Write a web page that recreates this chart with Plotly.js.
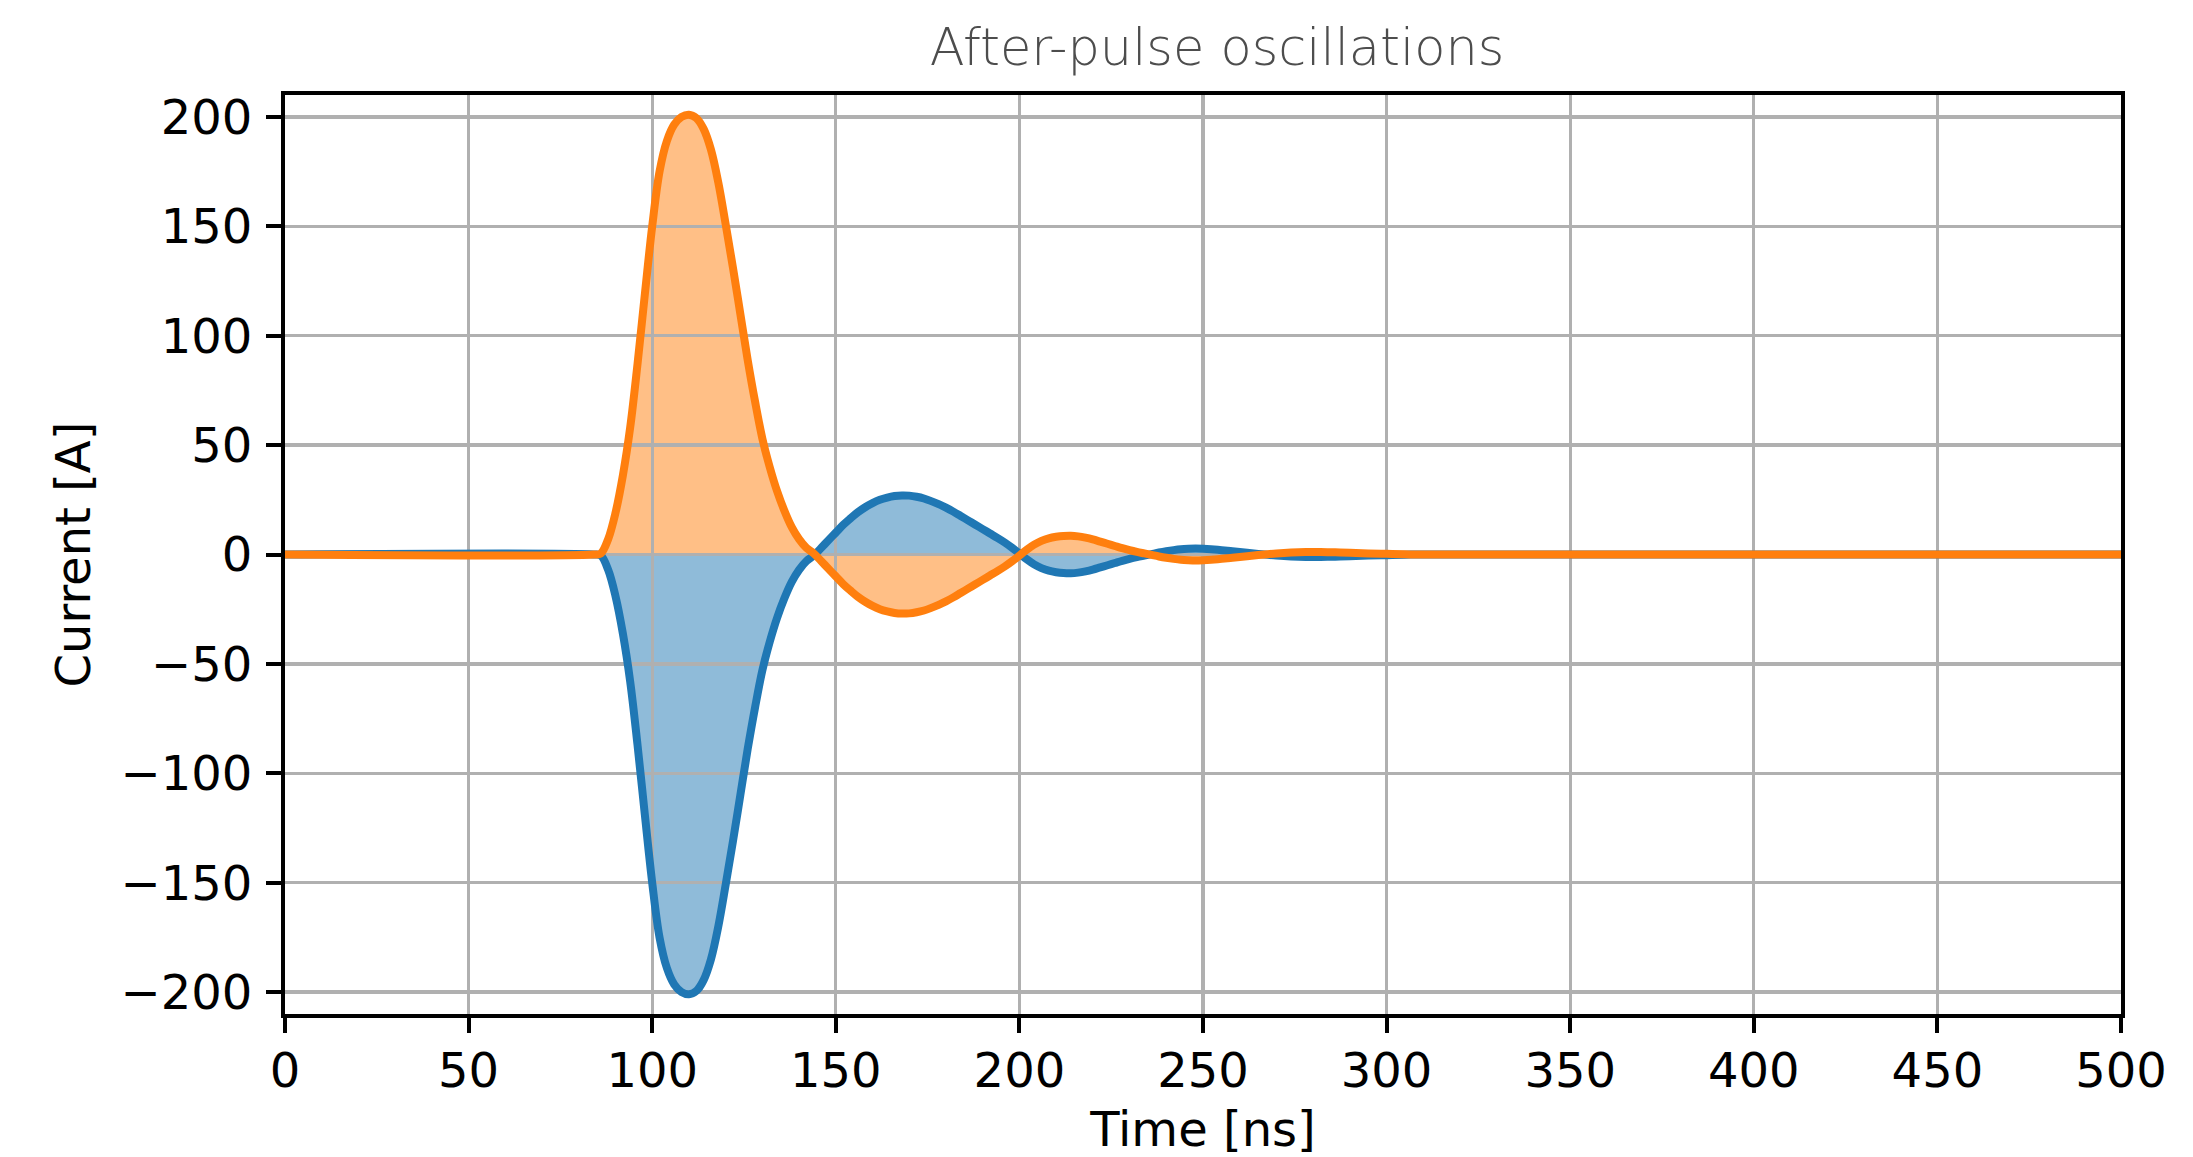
<!DOCTYPE html>
<html><head><meta charset="utf-8">
<script src="https://cdn.plot.ly/plotly-3.0.1.min.js"></script>
<style>html,body{margin:0;padding:0;background:#fff;} #chart{width:2193px;height:1157px;}</style>
</head><body><div id="chart"></div>
<script>
// Time axis (ns)
const time_ns = [0, 84, 86, 88, 90, 92, 94, 96, 98, 100, 102, 104, 106, 108, 110, 112, 114, 116, 118, 120,
  122, 124, 126, 128, 130, 132, 134, 136, 138, 140, 142, 144, 146, 148, 150, 152, 154, 156, 158, 160,
  162, 164, 166, 168, 170, 172, 174, 176, 178, 180, 182, 184, 186, 188, 190, 192, 194, 196, 198, 200,
  202, 204, 206, 208, 210, 212, 214, 216, 218, 220, 222, 224, 226, 228, 230, 232, 234, 236, 238, 240,
  242, 244, 246, 248, 250, 254, 258, 262, 266, 270, 274, 278, 282, 286, 290, 295, 300, 305, 310, 320, 500];

// Blue series current (A)
const current_blue = [0, 0, -0.5, -7, -19, -36, -58, -87, -119, -150, -175, -189, -196.5, -200, -201, -199.5, -194.5, -185, -170, -151,
  -131, -110, -89, -70, -53, -40, -29, -20, -12.5, -7, -3, -0.5, 3, 6.5, 10, 13.5, 16.5, 19.3, 21.6, 23.5,
  25, 26, 26.7, 27, 26.9, 26.4, 25.6, 24.4, 23, 21.4, 19.6, 17.6, 15.6, 13.6, 11.6, 9.6, 7.6, 5.5, 3.1, 0.5,
  -2.2, -4.5, -6.2, -7.4, -8.1, -8.5, -8.6, -8.3, -7.7, -6.9, -5.9, -4.9, -3.9, -2.9, -2.0, -1.2, -0.5, 0.2, 0.9, 1.5,
  2.0, 2.4, 2.6, 2.7, 2.6, 2.2, 1.5, 0.8, 0.1, -0.5, -0.9, -1.1, -1.1, -1.0, -0.8, -0.5, -0.3, -0.1, 0, 0, 0];

// Orange series current (A)
const current_orange = [0, 0, 0.5, 7, 19, 36, 58, 87, 119, 150, 175, 189, 196.5, 200, 201, 199.5, 194.5, 185, 170, 151,
  131, 110, 89, 70, 53, 40, 29, 20, 12.5, 7, 3, 0.5, -3, -6.5, -10, -13.5, -16.5, -19.3, -21.6, -23.5,
  -25, -26, -26.7, -27, -26.9, -26.4, -25.6, -24.4, -23, -21.4, -19.6, -17.6, -15.6, -13.6, -11.6, -9.6, -7.6, -5.5, -3.1, -0.5,
  2.2, 4.5, 6.2, 7.4, 8.1, 8.5, 8.6, 8.3, 7.7, 6.9, 5.9, 4.9, 3.9, 2.9, 2.0, 1.2, 0.5, -0.2, -0.9, -1.5,
  -2.0, -2.4, -2.6, -2.7, -2.6, -2.2, -1.5, -0.8, -0.1, 0.5, 0.9, 1.1, 1.1, 1.0, 0.8, 0.5, 0.3, 0.1, 0, 0, 0];

const xTicks = [0, 50, 100, 150, 200, 250, 300, 350, 400, 450, 500];
const yTicks = [-200, -150, -100, -50, 0, 50, 100, 150, 200];

const chartTitle = 'After-pulse oscillations';
const xTitle = 'Time [ns]';
const yTitle = 'Current [A]';

const BLUE = '#1f77b4', ORANGE = '#ff7f0e';
const tickFont = {family: 'DejaVu Sans', size: 48, color: '#000000'};
const SMOOTH = {shape: 'spline', smoothing: 1};

const traces = [
  // fills on the lower subplot (below gridlines)
  {x: time_ns, y: current_blue, xaxis: 'x', yaxis: 'y', mode: 'lines', line: Object.assign({width: 0, color: BLUE}, SMOOTH),
   fill: 'tozeroy', fillcolor: 'rgba(31,119,180,0.5)', hoverinfo: 'skip'},
  {x: time_ns, y: current_orange, xaxis: 'x', yaxis: 'y', mode: 'lines', line: Object.assign({width: 0, color: ORANGE}, SMOOTH),
   fill: 'tozeroy', fillcolor: 'rgba(255,127,14,0.5)', hoverinfo: 'skip'},
  // lines on the upper subplot (above gridlines)
  {x: time_ns, y: current_blue, xaxis: 'x2', yaxis: 'y2', mode: 'lines', line: Object.assign({width: 8, color: BLUE}, SMOOTH)},
  {x: time_ns, y: current_orange, xaxis: 'x2', yaxis: 'y2', mode: 'lines', line: Object.assign({width: 8, color: ORANGE}, SMOOTH)}
];

const layout = {
  width: 2193, height: 1157,
  margin: {l: 285, r: 72, t: 95, b: 143, pad: 0},
  paper_bgcolor: '#ffffff', plot_bgcolor: 'rgba(0,0,0,0)',
  showlegend: false,
  title: {text: chartTitle, font: {family: 'DejaVu Sans', size: 51, color: '#4d4d4d', weight: 200},
          x: 0.555, xref: 'container', xanchor: 'center', y: 0.9595, yref: 'container', yanchor: 'middle'},
  xaxis: {domain: [0, 1], anchor: 'y', range: [0, 500], visible: false},
  yaxis: {domain: [0, 1], anchor: 'x', range: [-210, 210], visible: false},
  xaxis2: {domain: [0, 1], anchor: 'y2', range: [0, 500], tickmode: 'array', tickvals: xTicks,
    showgrid: true, gridcolor: '#b0b0b0', gridwidth: 3.3, zeroline: false,
    showline: true, mirror: true, linecolor: '#000000', linewidth: 4,
    ticks: 'outside', ticklen: 15, tickwidth: 4, tickcolor: '#000000', tickfont: tickFont,
    ticklabelstandoff: -4,
    title: {text: xTitle, font: tickFont, standoff: 30}},
  yaxis2: {domain: [0, 1], anchor: 'x2', range: [-210, 210], tickmode: 'array', tickvals: yTicks,
    showgrid: true, gridcolor: '#b0b0b0', gridwidth: 3.3, zeroline: false,
    showline: true, mirror: true, linecolor: '#000000', linewidth: 4,
    ticks: 'outside', ticklen: 15, tickwidth: 4, tickcolor: '#000000', tickfont: tickFont,
    ticklabelstandoff: 4,
    title: {text: yTitle, font: tickFont, standoff: 16}}
};

Plotly.newPlot('chart', traces, layout, {staticPlot: true, displayModeBar: false});
</script>
</body></html>
